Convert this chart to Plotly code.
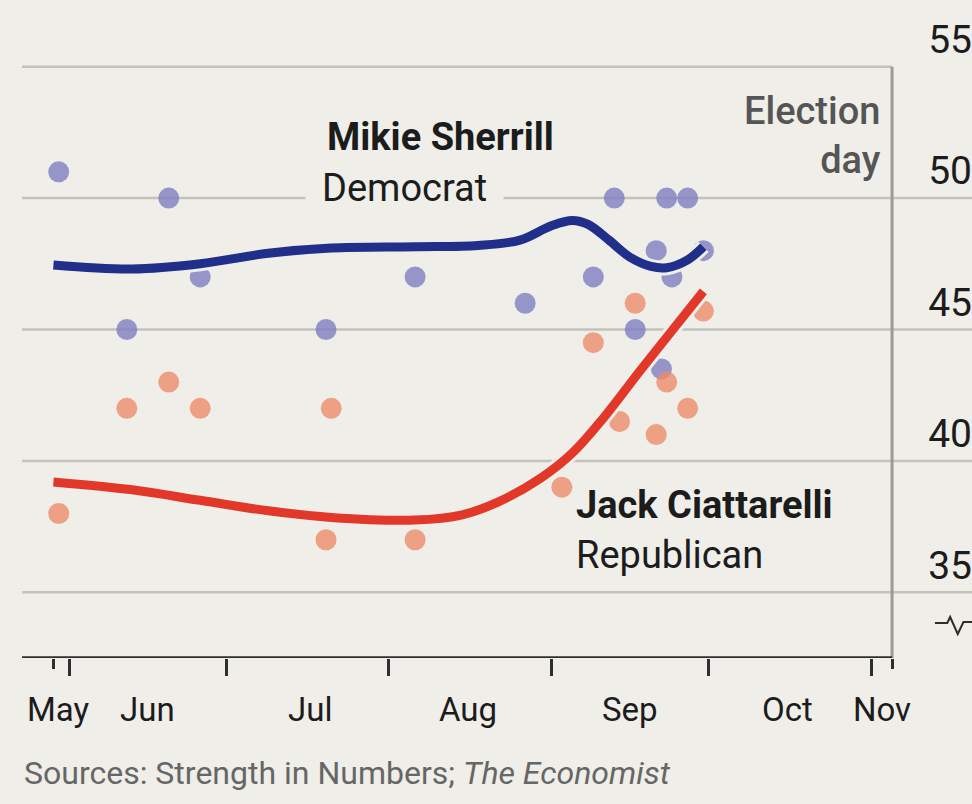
import pandas as pd
import plotly.graph_objects as go

BG = "#efeee9"
BLUE_LINE = "#1f2f8a"
RED_LINE = "#e2382a"
BLUE_DOT = "#7c7cc0"
RED_DOT = "#ec8a66"
GRID = "#c3c2bb"
INK = "#1c1c1c"
FONT = "Roboto"

# Individual polls: Mikie Sherrill (Democrat)
dem_poll_dates = ["2025-05-30", "2025-06-12", "2025-06-20", "2025-06-26", "2025-07-20",
                  "2025-08-06", "2025-08-27", "2025-09-09", "2025-09-13", "2025-09-17",
                  "2025-09-21", "2025-09-22", "2025-09-23", "2025-09-24", "2025-09-27",
                  "2025-09-30"]
dem_poll_values = [51, 45, 50, 47, 45,
                   47, 46, 47, 50, 45,
                   48, 43.5, 50, 47, 50,
                   48]

# Individual polls: Jack Ciattarelli (Republican)
rep_poll_dates = ["2025-05-30", "2025-06-12", "2025-06-20", "2025-06-26", "2025-07-20",
                  "2025-07-21", "2025-08-06", "2025-09-03", "2025-09-09", "2025-09-14",
                  "2025-09-17", "2025-09-21", "2025-09-23", "2025-09-27", "2025-09-30"]
rep_poll_values = [38, 42, 43, 42, 37,
                   42, 37, 39, 44.5, 41.5,
                   46, 41, 43, 42, 45.7]

# Smoothed polling averages
dem_avg_dates = ["2025-05-29", "2025-06-13", "2025-06-26", "2025-07-09", "2025-07-21",
                 "2025-08-06", "2025-08-18", "2025-08-26", "2025-09-01", "2025-09-05",
                 "2025-09-08", "2025-09-12", "2025-09-16", "2025-09-20", "2025-09-23",
                 "2025-09-27", "2025-09-30"]
dem_avg_values = [47.45, 47.3, 47.5, 47.9, 48.1,
                  48.15, 48.2, 48.4, 48.95, 49.15,
                  49.0, 48.4, 47.75, 47.4, 47.35,
                  47.65, 48.15]

rep_avg_dates = ["2025-05-29", "2025-06-13", "2025-06-26", "2025-07-09", "2025-07-21",
                 "2025-08-06", "2025-08-15", "2025-08-22", "2025-08-30", "2025-09-05",
                 "2025-09-11", "2025-09-18", "2025-09-24", "2025-09-30"]
rep_avg_values = [39.2, 38.9, 38.5, 38.1, 37.85,
                  37.75, 37.95, 38.45, 39.35, 40.3,
                  41.65, 43.45, 44.95, 46.45]

# Axis setup
month_ticks = ["2025-06-01", "2025-07-01", "2025-08-01", "2025-09-01", "2025-10-01", "2025-11-01"]
month_labels = ["May", "Jun", "Jul", "Aug", "Sep", "Oct", "Nov"]
month_label_pos = ["2025-05-30", "2025-06-16", "2025-07-17", "2025-08-16", "2025-09-16",
                   "2025-10-16", "2025-11-03"]
series_start = "2025-05-29"
ELECTION_DAY = pd.Timestamp("2025-11-04")
election_close = ELECTION_DAY + pd.Timedelta(days=1)
x_range = ["2025-05-23", "2025-11-20 06:00"]
y_range = [32.5, 57.5]
y_ticks = [35, 40, 45, 50, 55]

fig = go.Figure()

fig.add_trace(go.Scatter(
    x=dem_poll_dates, y=dem_poll_values, mode="markers",
    marker=dict(size=21, color=BLUE_DOT, opacity=0.78, line=dict(width=0)),
    hoverinfo="skip", showlegend=False))
fig.add_trace(go.Scatter(
    x=rep_poll_dates, y=rep_poll_values, mode="markers",
    marker=dict(size=21, color=RED_DOT, opacity=0.78, line=dict(width=0)),
    hoverinfo="skip", showlegend=False))

for dates, vals, colour in [(dem_avg_dates, dem_avg_values, BLUE_LINE),
                            (rep_avg_dates, rep_avg_values, RED_LINE)]:
    # light halo under each average line
    fig.add_trace(go.Scatter(
        x=dates, y=vals, mode="lines",
        line=dict(color=BG, width=15, shape="spline", smoothing=1.0),
        hoverinfo="skip", showlegend=False))
    fig.add_trace(go.Scatter(
        x=dates, y=vals, mode="lines",
        line=dict(color=colour, width=9, shape="spline", smoothing=1.0),
        hoverinfo="skip", showlegend=False))

shapes = []
for v in y_ticks:
    if v == y_ticks[-1]:
        shapes.append(dict(type="line", xref="x", yref="y", x0=x_range[0], x1=election_close,
                           y0=v, y1=v, line=dict(color=GRID, width=2.5), layer="below"))
    else:
        shapes.append(dict(type="line", xref="paper", yref="y", x0=0, x1=1,
                           y0=v, y1=v, line=dict(color=GRID, width=2.5), layer="below"))

# Election-day marker
shapes.append(dict(type="line", xref="x", yref="y", x0=election_close, x1=election_close,
                   y0=y_ticks[-1], y1=y_range[0], line=dict(color="#9a9a96", width=3),
                   layer="below"))
# Horizontal axis line, ending at election day
shapes.append(dict(type="line", xref="x", yref="y", x0=x_range[0], x1=election_close,
                   y0=y_range[0], y1=y_range[0], line=dict(color="#2e2e2e", width=3.5)))
# Broken-axis glyph beneath the scale
shapes.append(dict(type="path", xref="paper", yref="paper",
                   path="M 0.961 0.0533 L 0.974 0.0533 L 0.977 0.0624 L 0.985 0.0365 "
                        "L 0.991 0.0548 L 1.0 0.0548",
                   line=dict(color="#2e2e2e", width=2)))

annotations = []
for lab, pos in zip(month_labels, month_label_pos):
    annotations.append(dict(x=pos, y=-0.0791, xref="x", yref="paper", text=lab,
                            showarrow=False, xanchor="center", yanchor="middle",
                            font=dict(family=FONT, size=33, color=INK)))

annotations += [
    dict(x=0.298, y=0.7154, xref="paper", yref="paper", text="Democrat",
         showarrow=False, xanchor="left", yanchor="middle", bgcolor=BG, borderpad=16,
         font=dict(family=FONT, size=38, color=INK)),
    dict(x=0.319, y=0.793, xref="paper", yref="paper", text="<b>Mikie Sherrill</b>",
         showarrow=False, xanchor="left", yanchor="middle",
         font=dict(family=FONT, size=38, color=INK)),
    dict(x=0.581, y=0.2329, xref="paper", yref="paper", text="<b>Jack Ciattarelli</b>",
         showarrow=False, xanchor="left", yanchor="middle",
         font=dict(family=FONT, size=38, color=INK)),
    dict(x=0.581, y=0.1568, xref="paper", yref="paper", text="Republican",
         showarrow=False, xanchor="left", yanchor="middle",
         font=dict(family=FONT, size=38, color=INK)),
    dict(x=0.906, y=0.796, xref="paper", yref="paper", text="Election<br>day",
         showarrow=False, xanchor="right", yanchor="middle", align="right",
         font=dict(family=FONT, size=38, color="#555555", weight=500)),
    dict(x=0, y=-0.175, xref="paper", yref="paper",
         text="Sources: Strength in Numbers; <i>The Economist</i>",
         showarrow=False, xanchor="left", yanchor="middle",
         font=dict(family=FONT, size=32, color="#666666")),
]

fig.update_layout(
    width=972, height=804,
    margin=dict(l=22, r=0, t=1, b=146),
    paper_bgcolor=BG, plot_bgcolor=BG,
    shapes=shapes, annotations=annotations,
    showlegend=False,
    xaxis=dict(type="date", range=x_range, showgrid=False, zeroline=False, showline=False,
               tickmode="array", tickvals=month_ticks, showticklabels=False,
               ticks="outside", ticklen=17, tickwidth=2.5, tickcolor="#2e2e2e",
               minor=dict(tickmode="array", tickvals=[series_start, election_close],
                          ticks="outside", ticklen=10, tickwidth=2.5, tickcolor="#2e2e2e")),
    yaxis=dict(range=y_range, side="right", tickmode="array", tickvals=y_ticks,
               ticklabelposition="inside top", ticklabelstandoff=-3,
               showgrid=False, zeroline=False, showline=False, ticks="",
               tickfont=dict(family=FONT, size=39, color=INK)),
)

fig.write_html("out.html")
